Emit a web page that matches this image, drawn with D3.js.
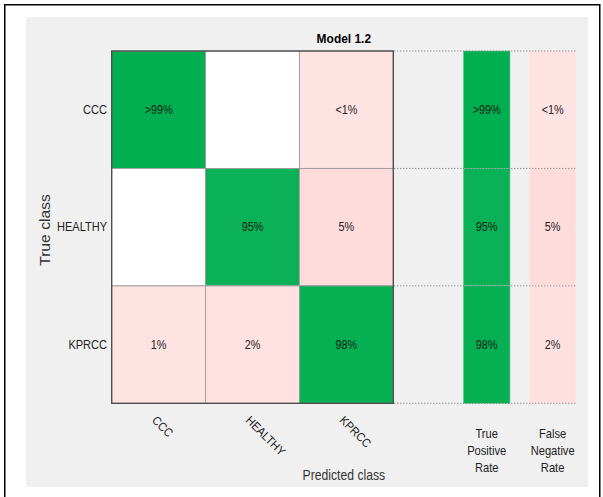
<!DOCTYPE html>
<html>
<head>
<meta charset="utf-8">
<script src="https://cdn.jsdelivr.net/npm/d3@7"></script>
<style>
  html, body { margin: 0; padding: 0; background: #ffffff; }
  svg { display: block; font-family: "Liberation Sans", Arial, Helvetica, sans-serif; }
</style>
</head>
<body>
<svg id="chart" width="603" height="497"></svg>
<script>
// Confusion matrix (row-normalised, percent) for Model 1.2
const classes = ["CCC", "HEALTHY", "KPRCC"];
const rowCCC     = [99.6, 0, 0.4];
const rowHEALTHY = [0, 95, 5];
const rowKPRCC   = [1.2, 1.6, 97.6];
const matrix = [rowCCC, rowHEALTHY, rowKPRCC];
const summaryCols = ["tpr", "fnr"];
const summaryLabels = [["True", "Positive", "Rate"], ["False", "Negative", "Rate"]];
const chartTitle = "Model 1.2";
const xTitle = "Predicted class";
const yTitle = "True class";

// Per-class rates: diagonal share of each row and its complement
const tpr = matrix.map((r, i) => r[i]);
const fnr = tpr.map(v => 100 - v);

function fmt(v) {
  if (v <= 0) return "";
  if (v > 99 && v < 100) return ">99%";
  if (v < 1) return "<1%";
  return Math.round(v) + "%";
}

const svg = d3.select("#chart");

// frame and panel
svg.append("rect").attr("x", 4.75).attr("y", 4.75).attr("width", 595).attr("height", 520)
  .attr("fill", "#ffffff").attr("stroke", "#000000").attr("stroke-width", 1.5);
svg.append("rect").attr("x", 26).attr("y", 17).attr("width", 562).attr("height", 470)
  .attr("fill", "#f0f0f0");

// scales
const x = d3.scaleBand().domain(classes).range([111.7, 393.3]);
const y = d3.scaleBand().domain(classes).range([51, 403.3]);
const xs = d3.scaleBand().domain(summaryCols).range([463.3, 576]).paddingInner(0.292).paddingOuter(0);

const diagColor = d3.scaleLinear().domain([90, 100]).range(["#14b35c", "#00ae4f"]).clamp(true);
const offColor = d3.scaleLinear().domain([0, 10]).range(["#ffe4e4", "#ffd3d3"]).clamp(true);
const cellColor = (v, diag) => v <= 0 ? "#ffffff" : (diag ? diagColor(v) : offColor(v));

// matrix cells
const cells = [];
matrix.forEach((row, i) => row.forEach((v, j) => cells.push({ r: classes[i], c: classes[j], v, diag: i === j })));

const gCells = svg.append("g");
gCells.selectAll("rect").data(cells).join("rect")
  .attr("x", d => x(d.c)).attr("y", d => y(d.r))
  .attr("width", x.bandwidth()).attr("height", y.bandwidth())
  .attr("fill", d => cellColor(d.v, d.diag))
  .attr("stroke", "#9c9c9c").attr("stroke-width", 0.9);

function label(g, tx, ty, text, size, sx, opts = {}) {
  const t = g.append("text")
    .attr("transform", `translate(${tx},${ty})` + (opts.rotate ? ` rotate(${opts.rotate})` : "") + ` scale(${sx},1)`)
    .attr("font-size", size)
    .attr("text-anchor", opts.anchor || "middle")
    .attr("fill", opts.fill || "#222222")
    .text(text);
  if (opts.bold) t.attr("font-weight", "bold");
  return t;
}

const gText = svg.append("g");
cells.forEach(d => {
  const s = fmt(d.v);
  if (s) label(gText, x(d.c) + x.bandwidth() / 2, y(d.r) + y.bandwidth() / 2 + 4.3, s, 12, 0.9,
               { fill: d.diag ? "#0b2414" : "#222222" });
});

// outer matrix border
svg.append("rect")
  .attr("x", x.range()[0]).attr("y", y.range()[0])
  .attr("width", x.range()[1] - x.range()[0]).attr("height", y.range()[1] - y.range()[0])
  .attr("fill", "none").attr("stroke", "#4a4a4a").attr("stroke-width", 1.3);

// summary columns
const summary = [];
classes.forEach((c, i) => {
  summary.push({ col: "tpr", r: c, v: tpr[i], diag: true });
  summary.push({ col: "fnr", r: c, v: fnr[i], diag: false });
});
const gSum = svg.append("g");
gSum.selectAll("rect").data(summary).join("rect")
  .attr("x", d => xs(d.col)).attr("y", d => y(d.r))
  .attr("width", xs.bandwidth()).attr("height", y.bandwidth())
  .attr("fill", d => cellColor(d.v, d.diag))
  .attr("stroke", d => d.diag ? "#7fd3a3" : "#ffe8e8").attr("stroke-width", 0.6);
summary.forEach(d => {
  label(gSum, xs(d.col) + xs.bandwidth() / 2, y(d.r) + y.bandwidth() / 2 + 4.3, fmt(d.v), 12, 0.9,
        { fill: d.diag ? "#0b2414" : "#222222" });
});

// dotted row separators across the summary area
const boundaries = classes.map(c => y(c)).concat([y.range()[1]]);
svg.append("g").selectAll("line").data(boundaries).join("line")
  .attr("x1", x.range()[1] + 1).attr("x2", xs.range()[1])
  .attr("y1", d => d).attr("y2", d => d)
  .attr("stroke", "#6e6e6e").attr("stroke-width", 1)
  .attr("stroke-dasharray", "1,2");

// row tick labels
const gAxes = svg.append("g");
classes.forEach(c => label(gAxes, 107, y(c) + y.bandwidth() / 2 + 4.3, c, 12, 0.92, { anchor: "end" }));

// column tick labels, rotated
classes.forEach(c => label(gAxes, x(c) + x.bandwidth() / 2 - 7.5, 421, c, 12, 0.92, { anchor: "start", rotate: 45 }));

// summary column headings
summaryCols.forEach((col, k) => {
  summaryLabels[k].forEach((line, li) => {
    label(gAxes, xs(col) + xs.bandwidth() / 2, 437.5 + li * 17.3, line, 12, 0.93);
  });
});

// titles
const spanMid = (x.range()[0] + xs.range()[1]) / 2;
label(gAxes, spanMid, 43, chartTitle, 13, 0.92, { bold: true, fill: "#000000" });
label(gAxes, spanMid, 480, xTitle, 14, 0.87, { fill: "#333333" });
label(gAxes, 50, 230, yTitle, 14, 1.12, { rotate: -90, fill: "#333333" });
</script>
</body>
</html>
